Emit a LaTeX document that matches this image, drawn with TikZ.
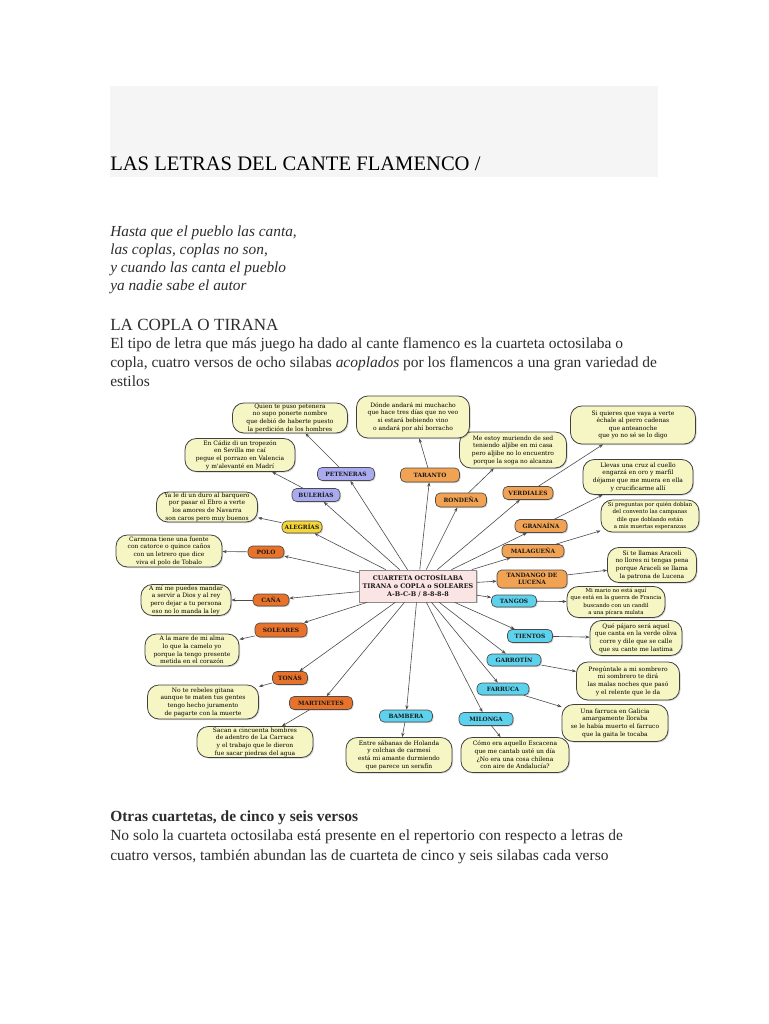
\documentclass[tikz,border=0pt]{standalone}
\usepackage{fontspec}
\setmainfont{Liberation Serif}
\newfontfamily\dvs{DejaVu Serif}
\usetikzlibrary{shadows,arrows.meta}
\definecolor{yboxc}{RGB}{246,246,196}
\definecolor{pinkc}{RGB}{250,228,228}
\definecolor{purp}{RGB}{170,170,240}
\definecolor{yel}{RGB}{244,214,56}
\definecolor{orD}{RGB}{232,114,42}
\definecolor{orL}{RGB}{241,162,82}
\definecolor{cya}{RGB}{92,210,236}
\definecolor{band}{RGB}{245,245,245}
\definecolor{txt}{RGB}{45,45,45}
\tikzset{
  sz/.style 2 args={minimum width=#1*0.75pt, minimum height=#2*0.75pt},
  shd/.style={drop shadow={shadow xshift=0.8pt,shadow yshift=-0.8pt,opacity=0.35}},
  ybox/.style={draw=black!75, fill=yboxc, rounded corners=8.5pt, line width=0.6pt, shd,
    align=center, inner sep=0pt, text=black, font=\dvs\fontsize{4.5}{5.7}\selectfont},
  smalltext/.style={font=\dvs\fontsize{4.1}{5.5}\selectfont},
  cat/.style={draw=black!70, rounded corners=3.5pt, line width=0.5pt, shd,
    align=center, inner sep=0pt, text=black!90, font=\dvs\bfseries\fontsize{4.4}{5.2}\selectfont},
  ctr/.style={draw=black!45, fill=pinkc, line width=0.5pt, shd, align=center, inner sep=0pt,
    text=black!90, font=\dvs\bfseries\fontsize{4.8}{5.8}\selectfont},
  link/.style={draw=black!70, line width=0.45pt, -{Stealth[length=3.2pt,width=2.4pt]}},
  ln/.style={anchor=base west, inner sep=0pt, text=txt},
  body/.style={ln, font=\fontsize{11.6}{13}\selectfont},
}
\begin{document}
\begin{tikzpicture}[x=0.75pt,y=-0.75pt]
\useasboundingbox (0,0) rectangle (768,1024);
\fill[white] (0,0) rectangle (768,1024);
\fill[band] (110,86) rectangle (658,177);
\node[ln, text=black, font=\fontsize{15.45}{18}\selectfont] (title) at (110,170) {LAS LETRAS DEL CANTE FLAMENCO /};

\node[ln, font=\itshape\fontsize{11.5}{13}\selectfont] (p1) at (110,236) {Hasta que el pueblo las canta,};
\node[ln, font=\itshape\fontsize{11.5}{13}\selectfont] (p2) at (110,254) {las coplas, coplas no son,};
\node[ln, font=\itshape\fontsize{11.5}{13}\selectfont] (p3) at (110,272) {y cuando las canta el pueblo};
\node[ln, font=\itshape\fontsize{11.5}{13}\selectfont] (p4) at (110,290) {ya nadie sabe el autor};

\node[ln, font=\fontsize{12.8}{15}\selectfont] (h1) at (110,330) {LA COPLA O TIRANA};
\node[body] (b1) at (110,348) {El tipo de letra que más juego ha dado al cante flamenco es la cuarteta octosilaba o};
\node[body] (b2) at (110,367) {copla, cuatro versos de ocho silabas \textit{acoplados} por los flamencos a una gran variedad de};
\node[body] (b3) at (110,386) {estilos};

\node[ln, font=\bfseries\fontsize{11.6}{13}\selectfont] (h2) at (110,821) {Otras cuartetas, de cinco y seis versos};
\node[body] (b4) at (110,840) {No solo la cuarteta octosilaba está presente en el repertorio con respecto a letras de};
\node[body] (b5) at (110,860) {cuatro versos, también abundan las de cuarteta de cinco y seis silabas cada verso};

% yellow boxes
\node[ybox, sz={115}{30}] (y1) at (290,418) {Quien te puso petenera\\no supo ponerte nombre\\que debió de haberte puesto\\la perdición de los hombres};
\node[ybox, sz={110}{33}] (y2) at (240,455) {En Cádiz di un tropezón\\en Sevilla me caí\\pegue el porrazo en Valencia\\y m'alevanté en Madrí};
\node[ybox, sz={101}{30}] (y3) at (207,507) {Ya le di un duro al barquero\\por pasar el Ebro a verte\\los amores de Navarra\\son caros pero muy buenos};
\node[ybox, sz={106}{32}] (y4) at (169,551) {Carmona tiene una fuente\\con catorce o quince caños\\con un letrero que dice\\viva el polo de Tobalo};
\node[ybox, sz={90}{31}] (y5) at (186,600) {A mí me puedes mandar\\a servir a Dios y al rey\\pero dejar a tu persona\\eso no lo manda la ley};
\node[ybox, sz={94}{32}] (y6) at (192,650) {A la mare de mi alma\\lo que la camelo yo\\porque la tengo presente\\metida en el corazón};
\node[ybox, sz={111}{34}] (y7) at (203,702) {No te rebeles gitana\\aunque te maten tus gentes\\tengo hecho juramento\\de pagarte con la muerte};
\node[ybox, sz={116}{31}] (y8) at (255,742) {Sacan a cincuenta hombres\\de adentro de La Carraca\\y el trabajo que le dieron\\fue sacar piedras del agua};
\node[ybox, sz={106}{35}] (y9) at (399,755) {Entre sábanas de Holanda\\y colchas de carmesí\\está mi amante durmiendo\\que parece un serafín};
\node[ybox, sz={108}{35}] (y10) at (515,755) {Cómo era aquello Escacena\\que me cantab usté un día\\¿No era una cosa chilena\\con aire de Andalucía?};
\node[ybox, sz={106}{37}] (y11) at (615,723) {Una farruca en Galicia\\amargamente lloraba\\se le había muerto el farruco\\que la gaita le tocaba};
\node[ybox, sz={103}{38}] (y12) at (628,681) {Pregúntale a mi sombrero\\mi sombrero te dirá\\las malas noches que pasó\\y el relente que le da};
\node[ybox, sz={92}{35}] (y13) at (636,638) {Qué pájaro será aquel\\que canta en la verde oliva\\corre y dile que se calle\\que su cante me lastima};
\node[ybox, smalltext, sz={98}{31}] (y14) at (616,602) {Mi mario no está aquí\\que está en la guerra de Francia\\buscando con un candil\\a una pícara mulata};
\node[ybox, smalltext, sz={98}{32}] (y16) at (650,516) {Si preguntas por quién doblan\\del convento las campanas\\dile que doblando están\\a mis muertas esperanzas};
\node[ybox, sz={89}{35}] (y15) at (652,565) {Si te llamas Araceli\\no llores ni tengas pena\\porque Araceli se llama\\la patrona de Lucena};
\node[ybox, sz={110}{35}] (y17) at (638,477) {Llevas una cruz al cuello\\engarzá en oro y marfil\\déjame que me muera en ella\\y crucificarme allí};
\node[ybox, sz={125}{38}] (y18) at (633,425) {Si quieres que vaya a verte\\échale al perro cadenas\\que anteanoche\\que yo no sé se lo digo};
\node[ybox, sz={107}{36}] (y19) at (513,450) {Me estoy muriendo de sed\\teniendo aljibe en mi casa\\pero aljibe no lo encuentro\\porque la soga no alcanza};
\node[ybox, sz={113}{42}] (y20) at (413,417) {Dónde andará mi muchacho\\que hace tres días que no veo\\si estará bebiendo vino\\o andará por ahí borracho};

% central node
\node[ctr, sz={117}{32}] (c) at (418,586) {CUARTETA OCTOSÍLABA\\TIRANA o COPLA o SOLEARES\\A-B-C-B / 8-8-8-8};

% categories
\node[cat, fill=purp, sz={57}{13}] (pet) at (346,474) {PETENERAS};
\node[cat, fill=purp, sz={48}{13}] (bul) at (316,495) {BULERÍAS};
\node[cat, fill=yel, sz={40}{12}] (ale) at (302,527) {ALEGRÍAS};
\node[cat, fill=orD, sz={36}{12}] (pol) at (266,552) {POLO};
\node[cat, fill=orD, sz={36}{12}] (can) at (271,600) {CAÑA};
\node[cat, fill=orD, sz={52}{14}] (sol) at (281,630) {SOLEARES};
\node[cat, fill=orD, sz={35}{13}] (ton) at (290,678) {TONÁS};
\node[cat, fill=orD, sz={63}{13}] (mar) at (321,703) {MARTINETES};
\node[cat, fill=cya, sz={53}{12}] (bam) at (406,716) {BAMBERA};
\node[cat, fill=cya, sz={54}{13}] (mil) at (486,719) {MILONGA};
\node[cat, fill=cya, sz={52}{12}] (far) at (503,689) {FARRUCA};
\node[cat, fill=cya, sz={54}{12}] (gar) at (514,660) {GARROTÍN};
\node[cat, fill=cya, sz={45}{13}] (tie) at (530,636) {TIENTOS};
\node[cat, fill=cya, sz={45}{12}] (tan) at (514,601) {TANGOS};
\node[cat, fill=orL, sz={70}{18}] (fan) at (532,579) {TANDANGO DE\\LUCENA};
\node[cat, fill=orL, sz={62}{13}] (mal) at (533,551) {MALAGUEÑA};
\node[cat, fill=orL, sz={52}{13}] (gra) at (541,526) {GRANAÍNA};
\node[cat, fill=orL, sz={50}{13}] (ver) at (528,493) {VERDIALES};
\node[cat, fill=orL, sz={51}{14}] (ron) at (461,500) {RONDEÑA};
\node[cat, fill=orL, sz={59}{14}] (tar) at (430,475) {TARANTO};

% links from centre
\foreach \n in {pet,bul,ale,pol,can,sol,ton,mar,bam,mil,far,gar,tie,tan,fan,mal,gra,ver,ron,tar}
  \draw[link] (c) -- (\n);
% links to verses
\draw[link] (pet) -- (y1);
\draw[link] (bul) -- (y2);
\draw[link] (ale) -- (y3);
\draw[link] (pol) -- (y4);
\draw[link] (can) -- (y5);
\draw[link] (sol) -- (y6);
\draw[link] (ton) -- (y7);
\draw[link] (mar) -- (y8);
\draw[link] (bam) -- (y9);
\draw[link] (mil) -- (y10);
\draw[link] (far) -- (y11);
\draw[link] (gar) -- (y12);
\draw[link] (tie) -- (y13);
\draw[link] (tan) -- (y14);
\draw[link] (fan) -- (y15);
\draw[link] (mal) -- (y16);
\draw[link] (gra) -- (y17);
\draw[link] (ver) -- (y18);
\draw[link] (ron) -- (y19);
\draw[link] (tar) -- (y20);
\end{tikzpicture}
\end{document}
